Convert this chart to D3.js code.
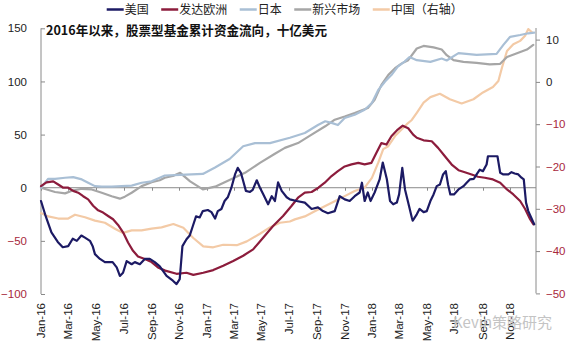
<!DOCTYPE html>
<html><head><meta charset="utf-8">
<script src="https://cdn.jsdelivr.net/npm/d3@7"></script>
<style>
html,body{margin:0;padding:0;background:#fff;}
svg{display:block;}
</style></head>
<body>
<svg id="chart" width="570" height="350"></svg>
<script>
// ---------------- DATA ----------------
const titleText = "2016年以来，股票型基金累计资金流向，十亿美元";
const seriesNames = ["美国", "发达欧洲", "日本", "新兴市场", "中国（右轴）"];
const leftTicks = [-100, -50, 0, 50, 100, 150];
const rightTicks = [-50, -40, -30, -20, -10, 0, 10];

const usData = [["2016-01-01",-12.5],["2016-01-10",-25],["2016-01-24",-42],["2016-02-07",-51],["2016-02-18",-56],["2016-03-01",-55],["2016-03-11",-48],["2016-03-20",-50],["2016-03-30",-45],["2016-04-07",-47],["2016-04-18",-50],["2016-04-24",-55],["2016-04-29",-62.5],["2016-05-10",-67],["2016-05-21",-70],["2016-06-07",-70],["2016-06-16",-75],["2016-06-23",-83],["2016-06-30",-80],["2016-07-08",-69],["2016-07-19",-72],["2016-07-26",-70],["2016-08-06",-72],["2016-08-17",-67],["2016-08-28",-67],["2016-09-08",-70],["2016-09-19",-74],["2016-10-04",-83],["2016-10-18",-87.5],["2016-10-26",-90.7],["2016-11-02",-86],["2016-11-08",-55],["2016-11-17",-48.5],["2016-11-24",-45],["2016-12-01",-36],["2016-12-08",-27],["2016-12-16",-28],["2016-12-23",-22],["2017-01-03",-21],["2017-01-11",-23],["2017-01-19",-29],["2017-01-25",-22],["2017-02-02",-20],["2017-02-09",-12.5],["2017-02-16",-9],["2017-02-24",0],["2017-03-04",12.5],["2017-03-10",18.7],["2017-03-17",14],["2017-03-21",8],["2017-03-28",-3],["2017-04-06",-4],["2017-04-12",-2],["2017-04-21",7],["2017-04-28",0],["2017-05-05",-6],["2017-05-16",-15.6],["2017-05-24",-8],["2017-05-31",-12.5],["2017-06-07",5],["2017-06-15",-3],["2017-06-26",-9],["2017-07-03",-11],["2017-07-18",-12.5],["2017-08-05",-14],["2017-08-20",-20],["2017-09-03",-18.5],["2017-09-14",-22],["2017-09-25",-24],["2017-10-10",-22],["2017-10-21",-8],["2017-11-01",-11],["2017-11-12",-12.5],["2017-11-23",-8],["2017-12-04",-4.5],["2017-12-09",4.7],["2017-12-15",-12.5],["2017-12-22",-4.5],["2017-12-28",-12.5],["2018-01-06",-4.5],["2018-01-17",7.8],["2018-01-24",23.7],["2018-02-02",8],["2018-02-09",-12.5],["2018-02-16",-15.6],["2018-02-24",-14],["2018-03-01",-6.3],["2018-03-08",18.7],["2018-03-14",-1.6],["2018-03-21",-14],["2018-03-29",-28],["2018-03-31",-31],["2018-04-09",-25],["2018-04-15",-20],["2018-04-24",-23],["2018-05-01",-22],["2018-05-09",-12.5],["2018-05-16",-6.3],["2018-05-23",1.5],["2018-05-30",3],["2018-06-06",12.5],["2018-06-12",15.6],["2018-06-17",3],["2018-06-22",-6.3],["2018-06-30",-6.3],["2018-07-10",-1.6],["2018-07-21",1.5],["2018-07-28",4.7],["2018-08-04",7.8],["2018-08-13",8.4],["2018-08-19",12.5],["2018-08-26",17],["2018-09-02",15.6],["2018-09-10",21.9],["2018-09-13",29.6],["2018-09-24",29.6],["2018-10-04",29.6],["2018-10-10",14],["2018-10-17",12.5],["2018-10-28",12.5],["2018-11-04",14.6],["2018-11-11",13.4],["2018-11-19",12.5],["2018-11-26",9.4],["2018-12-01",7.8],["2018-12-06",-14],["2018-12-11",-22],["2018-12-19",-29.7],["2018-12-24",-34.4]];

const europeData = [["2016-01-01",1.5],["2016-01-13",5],["2016-01-28",6],["2016-02-08",3],["2016-02-19",0],["2016-03-01",0],["2016-03-12",-3],["2016-03-23",-4.7],["2016-04-03",-8],["2016-04-14",-11],["2016-04-25",-17],["2016-05-06",-21.3],["2016-05-17",-23.4],["2016-05-28",-26.6],["2016-06-08",-29.7],["2016-06-19",-35],["2016-06-30",-42],["2016-07-11",-51.5],["2016-07-22",-59.4],["2016-08-02",-64.7],["2016-08-17",-67],["2016-09-01",-70],["2016-09-15",-75],["2016-10-01",-78],["2016-10-26",-81],["2016-11-17",-80],["2016-12-02",-82],["2016-12-24",-80],["2017-01-15",-77.5],["2017-02-06",-73.5],["2017-02-28",-69],["2017-03-22",-64],["2017-04-13",-58],["2017-05-05",-47],["2017-05-27",-36],["2017-06-18",-26.6],["2017-07-07",-17],["2017-07-21",-9.4],["2017-08-05",-4.7],["2017-08-20",-4],["2017-09-04",0],["2017-09-18",4.7],["2017-10-03",11],["2017-10-17",15.6],["2017-11-01",20],["2017-11-16",22],["2017-12-01",23.4],["2017-12-15",22],["2017-12-30",23.4],["2018-01-10",32.8],["2018-01-21",42],["2018-02-01",40.6],["2018-02-12",48.4],["2018-02-26",54.7],["2018-03-09",58.4],["2018-03-21",56],["2018-04-01",50],["2018-04-09",47],["2018-04-24",44.6],["2018-05-12",43.7],["2018-05-26",37.5],["2018-06-10",29.6],["2018-06-25",21.8],["2018-07-10",16.5],["2018-07-24",14.6],["2018-08-08",12.5],["2018-08-22",10.3],["2018-09-06",9.4],["2018-09-24",7.8],["2018-10-10",4.7],["2018-10-25",-1.6],["2018-11-08",-6.3],["2018-11-23",-12.5],["2018-12-04",-20],["2018-12-15",-29.7],["2018-12-22",-34.4]];

const japanData = [["2016-01-01",0],["2016-01-17",8.4],["2016-02-01",8.4],["2016-02-23",9.4],["2016-03-12",10],["2016-03-31",7.8],["2016-04-14",4.7],["2016-04-29",1.5],["2016-05-14",1],["2016-06-05",1],["2016-06-27",1.5],["2016-07-19",2],["2016-08-10",4.7],["2016-09-01",6],["2016-09-19",9.4],["2016-09-30",11.5],["2016-11-03",12],["2016-12-23",13],["2017-01-19",19],["2017-02-20",27],["2017-03-22",39],["2017-04-17",42],["2017-05-20",42],["2017-07-03",47],["2017-08-05",51.5],["2017-09-03",59],["2017-09-19",62.5],["2017-10-03",61],["2017-10-17",59],["2017-11-01",65.6],["2017-11-23",68.7],["2017-12-15",73.4],["2017-12-31",79.7],["2018-01-14",92],["2018-01-29",100],["2018-02-12",106],["2018-02-26",114],["2018-03-13",118.7],["2018-03-24",123],["2018-04-09",120],["2018-05-09",118.4],["2018-06-03",121.6],["2018-06-14",119.7],["2018-07-10",126.6],["2018-08-19",125],["2018-10-02",126],["2018-10-17",134.4],["2018-11-01",142],["2018-11-23",143.7],["2018-12-11",145.3],["2018-12-24",146]];

const emData = [["2016-01-01",0],["2016-02-01",-4],["2016-02-23",-5.3],["2016-03-08",-3],["2016-03-31",-1],["2016-04-22",-1.6],["2016-05-14",-4.7],["2016-06-05",-8],["2016-06-23",-10.3],["2016-07-04",-8.4],["2016-07-19",-4.7],["2016-08-10",1.5],["2016-09-01",5.2],["2016-09-19",7],["2016-09-30",9.4],["2016-10-18",11],["2016-11-03",14],["2016-11-25",6],["2016-12-23",-1.6],["2017-01-19",1],["2017-02-14",6.2],["2017-03-26",14],["2017-04-28",23.4],["2017-05-31",32],["2017-06-22",37.5],["2017-07-21",42],["2017-08-20",50],["2017-09-19",57.8],["2017-10-10",64],["2017-11-01",67],["2017-11-23",70.3],["2017-12-22",75],["2018-01-06",82.8],["2018-01-21",96.8],["2018-02-05",106],["2018-02-20",112.5],["2018-03-07",117],["2018-03-21",120],["2018-04-09",131],["2018-04-24",133.4],["2018-05-16",132],["2018-06-03",130],["2018-06-14",124.7],["2018-06-29",120],["2018-07-21",118.4],["2018-08-19",117.5],["2018-09-17",116],["2018-10-10",116.6],["2018-10-25",123],["2018-11-16",126.6],["2018-12-08",130],["2018-12-22",134.4]];

const chinaData = [["2016-01-01",-31],["2016-01-17",-31.8],["2016-02-08",-32.3],["2016-03-01",-32.3],["2016-03-16",-31.4],["2016-04-07",-32],["2016-04-29",-32.8],["2016-05-21",-33.3],["2016-06-12",-34.7],["2016-06-30",-35.7],["2016-07-19",-35.1],["2016-08-10",-35.1],["2016-09-01",-34.7],["2016-09-23",-34.4],["2016-10-19",-33.6],["2016-11-10",-34.5],["2016-12-02",-36.9],["2016-12-24",-38.9],["2017-01-15",-39.1],["2017-02-06",-38.5],["2017-03-08",-38.6],["2017-03-30",-37.7],["2017-04-28",-35.9],["2017-05-20",-34.4],["2017-06-11",-33.3],["2017-07-03",-33],["2017-07-14",-32.5],["2017-08-05",-31.8],["2017-08-27",-30.6],["2017-09-18",-29.4],["2017-10-10",-28.2],["2017-11-01",-27],["2017-11-23",-25.8],["2017-12-15",-25],["2017-12-31",-22.7],["2018-01-14",-19.1],["2018-01-25",-15.9],["2018-02-05",-15.2],["2018-02-20",-12.8],["2018-03-07",-11.2],["2018-03-18",-10],["2018-03-29",-9],["2018-04-09",-7.3],["2018-04-24",-4.9],["2018-05-09",-3.6],["2018-05-30",-2.8],["2018-06-21",-4.1],["2018-07-17",-5.1],["2018-08-12",-4.1],["2018-09-02",-2.5],["2018-09-24",-1.2],["2018-10-06",0.2],["2018-10-14",3.4],["2018-10-25",7.3],["2018-11-08",8.9],["2018-11-23",9.7],["2018-12-04",10.9],["2018-12-11",12.5],["2018-12-19",11.7]];

const xStart = "2016-01-01", xEnd = "2018-12-28";

// ---------------- DRAW ----------------
const parse = d3.timeParse("%Y-%m-%d");
const svg = d3.select("#chart");
const L = 41, R = 536;
const x = d3.scaleTime().domain([parse(xStart), parse(xEnd)]).range([L, R]);
const yL = d3.scaleLinear().domain([-100, 150]).range([294, 28.3]);
const yR = d3.scaleLinear().domain([-50, 10]).range([293.4, 39.6]);

const colors = ["#1c1a64", "#8c1c3c", "#a9bfd5", "#a6a6a6", "#f3caa6"];
const negColor = "#a8283c", posColor = "#222";
const numFont = "'Liberation Sans', Arial, sans-serif";
const cjkFont = "'Noto Sans CJK SC', 'Noto Sans', sans-serif";

// zero line with ticks
svg.append("line").attr("x1", L).attr("x2", R).attr("y1", yL(0)).attr("y2", yL(0))
  .attr("stroke", "#8a8a8a").attr("stroke-width", 1);
const xTicks = d3.timeMonth.every(2).range(parse(xStart), parse(xEnd));
svg.append("g").selectAll("line").data(xTicks).join("line")
  .attr("x1", d => Math.round(x(d)) + 0.5).attr("x2", d => Math.round(x(d)) + 0.5)
  .attr("y1", yL(0)).attr("y2", yL(0) + 3).attr("stroke", "#8a8a8a");

// x labels (rotated)
const fmt = d3.timeFormat("%b-%y");
svg.append("g").selectAll("text").data(xTicks).join("text")
  .attr("transform", d => `translate(${x(d)},303) rotate(-90)`)
  .attr("text-anchor", "end").attr("dy", "0.35em")
  .attr("font-family", numFont).attr("font-size", 11.5).attr("fill", "#222")
  .text(d => fmt(d));

// left axis
const gL = svg.append("g").attr("transform", `translate(${L},0)`)
  .call(d3.axisLeft(yL).tickValues(leftTicks).tickSizeInner(-4).tickSizeOuter(0).tickPadding(14).tickFormat(d3.format("d")));
gL.select(".domain").attr("stroke", "#8a8a8a").attr("d", `M0,${yL(-100)}V${yL(150)}`);
gL.selectAll(".tick line").attr("stroke", "#8a8a8a");
gL.selectAll(".tick text").attr("font-family", numFont).attr("font-size", 11.5)
  .attr("fill", d => d < 0 ? negColor : posColor);

// right axis
const gR = svg.append("g").attr("transform", `translate(${R},0)`)
  .call(d3.axisRight(yR).tickValues(rightTicks).tickSizeInner(4).tickSizeOuter(0).tickPadding(6).tickFormat(d3.format("d")));
gR.select(".domain").attr("stroke", "#8a8a8a").attr("d", `M0,${yR(-50)}V28`);
gR.selectAll(".tick line").attr("stroke", "#8a8a8a");
gR.selectAll(".tick text").attr("font-family", numFont).attr("font-size", 11.5)
  .attr("fill", d => d < 0 ? negColor : posColor);

// lines
const lineL = d3.line().x(d => x(parse(d[0]))).y(d => yL(d[1])).curve(d3.curveLinear);
const lineR = d3.line().x(d => x(parse(d[0]))).y(d => yR(d[1])).curve(d3.curveLinear);
const series = [
  {data: chinaData, gen: lineR, c: colors[4]},
  {data: emData, gen: lineL, c: colors[3]},
  {data: japanData, gen: lineL, c: colors[2]},
  {data: europeData, gen: lineL, c: colors[1]},
  {data: usData, gen: lineL, c: colors[0]},
];
svg.append("g").selectAll("path").data(series).join("path")
  .attr("d", s => s.gen(s.data)).attr("fill", "none")
  .attr("stroke", s => s.c).attr("stroke-width", 2.2)
  .attr("stroke-linejoin", "round").attr("stroke-linecap", "round");

// title
svg.append("text").attr("x", 46).attr("y", 34.5)
  .attr("font-family", cjkFont).attr("font-weight", "bold").attr("font-size", 13)
  .attr("fill", "#111").attr("textLength", 281).attr("lengthAdjust", "spacingAndGlyphs")
  .text(titleText);

// legend
const lg = svg.append("g");
let lx = 106.7;
seriesNames.forEach((n, i) => {
  lg.append("line").attr("x1", lx).attr("x2", lx + 17).attr("y1", 9.5).attr("y2", 9.5)
    .attr("stroke", colors[i]).attr("stroke-width", 2.5);
  const t = lg.append("text").attr("x", lx + 18).attr("y", 9.5).attr("dy", "0.36em")
    .attr("font-family", cjkFont).attr("font-size", 12).attr("fill", "#222").text(n);
  lx = lx + 18 + t.node().getComputedTextLength() + 12.5;
});

// watermark
svg.append("text").attr("x", 453).attr("y", 328)
  .attr("font-family", cjkFont).attr("font-size", 15).attr("fill", "#c4c4c4")
  .text("Kevin策略研究");
</script>
</body></html>
